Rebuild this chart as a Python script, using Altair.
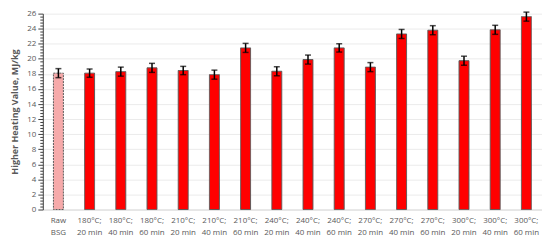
import altair as alt
import pandas as pd

categories = ["Raw\nBSG",
              "180°C;\n20 min", "180°C;\n40 min", "180°C;\n60 min",
              "210°C;\n20 min", "210°C;\n40 min", "210°C;\n60 min",
              "240°C;\n20 min", "240°C;\n40 min", "240°C;\n60 min",
              "270°C;\n20 min", "270°C;\n40 min", "270°C;\n60 min",
              "300°C;\n20 min", "300°C;\n40 min", "300°C;\n60 min"]
hhv = [18.1, 18.1, 18.3, 18.8, 18.45, 17.9, 21.45, 18.35,
       19.9, 21.45, 18.9, 23.3, 23.8, 19.75, 23.85, 25.6]
err = [0.6, 0.55, 0.6, 0.6, 0.55, 0.6, 0.6, 0.6,
       0.6, 0.55, 0.6, 0.6, 0.6, 0.6, 0.6, 0.6]
group = ["raw"] + ["treated"] * 15

df = pd.DataFrame({"cat": categories, "hhv": hhv, "err": err, "group": group})
df["lo"] = df["hhv"] - df["err"]
df["hi"] = df["hhv"] + df["err"]

tick_vals = [round(i * 0.4, 1) for i in range(66)]
major = "abs(datum.value - 2 * round(datum.value / 2)) < 0.01"

x = alt.X("cat:N", sort=categories, title=None,
          scale=alt.Scale(paddingInner=0, paddingOuter=0),
          axis=alt.Axis(labelExpr="split(datum.label, '\\n')", labelAngle=0,
                        labelFont="Open Sans", labelFontSize=8, labelColor="#595959",
                        labelPadding=7, ticks=False, domainColor="#D9D9D9",
                        labelLineHeight=12))
y_scale = alt.Scale(domain=[0, 26], nice=False)

base = alt.Chart(df)

bars = base.mark_bar(size=10, strokeWidth=1).encode(
    x=x,
    y=alt.Y("hhv:Q", scale=y_scale, title="Higher Heating Value, MJ/kg",
            axis=alt.Axis(values=tick_vals, tickCount=200,
                          labelExpr=f"{major} ? format(datum.value, '.0f') : ''",
                          labelOverlap=False, labelFlush=False,
                          labelFont="Open Sans", labelFontSize=8, labelColor="#595959",
                          titleFont="Open Sans", titleFontSize=9, titleFontWeight="bold",
                          titleColor="#595959", titlePadding=7,
                          domainColor="#404040",
                          tickColor="#404040",
                          tickSize={"condition": {"test": major, "value": 5}, "value": 3},
                          gridColor="#EBEBEB",
                          gridOpacity={"condition": {"test": major, "value": 1}, "value": 0},
                          labelPadding=2)),
    fill=alt.Fill("group:N", scale=alt.Scale(domain=["raw", "treated"],
                                              range=["#F6AAAA", "#FF0000"]), legend=None),
    stroke=alt.Stroke("group:N", scale=alt.Scale(domain=["raw", "treated"],
                                                  range=["#595959", "#595959"]), legend=None),
    strokeDash=alt.StrokeDash("group:N", scale=alt.Scale(domain=["raw", "treated"],
                                                          range=[[2, 1], [1, 0]]), legend=None),
)

stems = base.mark_rule(color="black", strokeWidth=1.5).encode(
    x=alt.X("cat:N", sort=categories), y=alt.Y("lo:Q", scale=y_scale), y2="hi:Q")
caps_lo = base.mark_tick(color="black", thickness=1.5, size=6).encode(
    x=alt.X("cat:N", sort=categories), y=alt.Y("lo:Q", scale=y_scale))
caps_hi = base.mark_tick(color="black", thickness=1.5, size=6).encode(
    x=alt.X("cat:N", sort=categories), y=alt.Y("hi:Q", scale=y_scale))

chart = alt.layer(bars, stems, caps_lo, caps_hi).properties(
    width=502, height=197, autosize="none",
    padding={"left": 35, "top": 5, "right": 0, "bottom": 31}
).configure_view(stroke=None)

chart.save("out.html", embed_options={"renderer": "svg", "actions": False})
